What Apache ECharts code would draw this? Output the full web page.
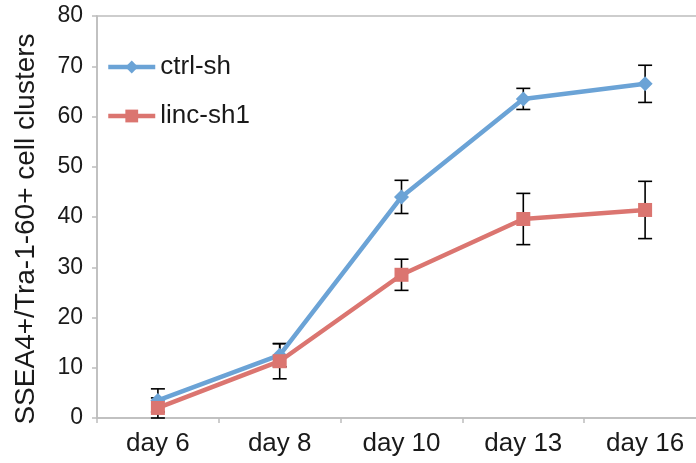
<!DOCTYPE html>
<html>
<head>
<meta charset="utf-8">
<script src="https://cdn.jsdelivr.net/npm/echarts@6/dist/echarts.min.js"></script>
<style>html,body{margin:0;padding:0;background:#fff;overflow:hidden;width:696px;height:463px}#c{width:706px;height:463px}</style>
</head>
<body>
<div id="c"></div>
<script>
const categories = ['day 6', 'day 8', 'day 10', 'day 13', 'day 16'];
const ctrlValues = [3.5, 12.5, 44, 63.5, 66.5];
const ctrlErr = [2.3, 2.3, 3.3, 2.1, 3.7];
const lincValues = [2, 11.3, 28.5, 39.6, 41.4];
const lincErr = [2, 3.5, 3.1, 5.1, 5.7];
const yTicks = [0, 10, 20, 30, 40, 50, 60, 70, 80];

const blue = '#6BA3D6';
const red = '#DB7570';
const font = 'Liberation Sans, Arial, sans-serif';
const textColor = '#1a1a1a';
const axisColor = '#BDBDBD';

function errSeries(vals, errs) {
  return {
    type: 'custom',
    silent: true,
    z: 1,
    data: vals.map((v, i) => [i, v - errs[i], v + errs[i]]),
    renderItem: function (params, api) {
      const lo = api.coord([api.value(0), api.value(1)]);
      const hi = api.coord([api.value(0), api.value(2)]);
      const hw = 7;
      const st = { stroke: '#000', lineWidth: 1.6 };
      return {
        type: 'group',
        children: [
          { type: 'line', shape: { x1: lo[0], y1: lo[1], x2: hi[0], y2: hi[1] }, style: st },
          { type: 'line', shape: { x1: lo[0] - hw, y1: lo[1], x2: lo[0] + hw, y2: lo[1] }, style: st },
          { type: 'line', shape: { x1: hi[0] - hw, y1: hi[1], x2: hi[0] + hw, y2: hi[1] }, style: st }
        ]
      };
    }
  };
}

const chart = echarts.init(document.getElementById('c'));
chart.setOption({
  animation: false,
  backgroundColor: '#fff',
  grid: { left: 97, top: 16, right: 0, bottom: 45, show: true, borderColor: axisColor, borderWidth: 1.5, backgroundColor: 'transparent' },
  legend: {
    orient: 'vertical',
    left: 101,
    top: 49,
    itemWidth: 47,
    itemHeight: 16,
    itemGap: 23,
    lineStyle: { width: 4.5 },
    textStyle: { fontFamily: font, fontSize: 26, color: textColor },
    data: [
      { name: 'ctrl-sh', lineStyle: { width: 4.5, color: blue } },
      { name: 'linc-sh1', lineStyle: { width: 4.5, color: red } }
    ]
  },
  xAxis: {
    type: 'category',
    data: categories,
    boundaryGap: true,
    axisLine: { lineStyle: { color: axisColor, width: 1.5 } },
    axisTick: { show: true, length: 5, lineStyle: { color: axisColor, width: 1.5 } },
    axisLabel: { fontFamily: font, fontSize: 26, color: textColor, margin: 13 },
    splitLine: { show: false }
  },
  yAxis: {
    type: 'value',
    min: 0,
    max: 80,
    interval: 10,
    name: 'SSEA4+/Tra-1-60+ cell clusters',
    nameLocation: 'middle',
    nameGap: 57,
    nameRotate: 90,
    nameTextStyle: { fontFamily: font, fontSize: 28, color: textColor, padding: [0, 24, 0, 0] },
    axisLine: { show: true, lineStyle: { color: axisColor, width: 1.5 } },
    axisTick: { show: true, length: 5, lineStyle: { color: axisColor, width: 1.5 } },
    axisLabel: { fontFamily: font, fontSize: 23, color: textColor, margin: 14,
      formatter: v => yTicks.includes(v) ? String(v) : '' },
    splitLine: { show: false }
  },
  series: [
    errSeries(ctrlValues, ctrlErr),
    errSeries(lincValues, lincErr),
    {
      name: 'ctrl-sh', type: 'line', data: ctrlValues, z: 3,
      symbol: 'diamond', symbolSize: 15,
      lineStyle: { color: blue, width: 4.5 },
      itemStyle: { color: blue }
    },
    {
      name: 'linc-sh1', type: 'line', data: lincValues, z: 4,
      symbol: 'rect', symbolSize: 14,
      lineStyle: { color: red, width: 4.5 },
      itemStyle: { color: red }
    }
  ]
});
</script>
</body>
</html>
